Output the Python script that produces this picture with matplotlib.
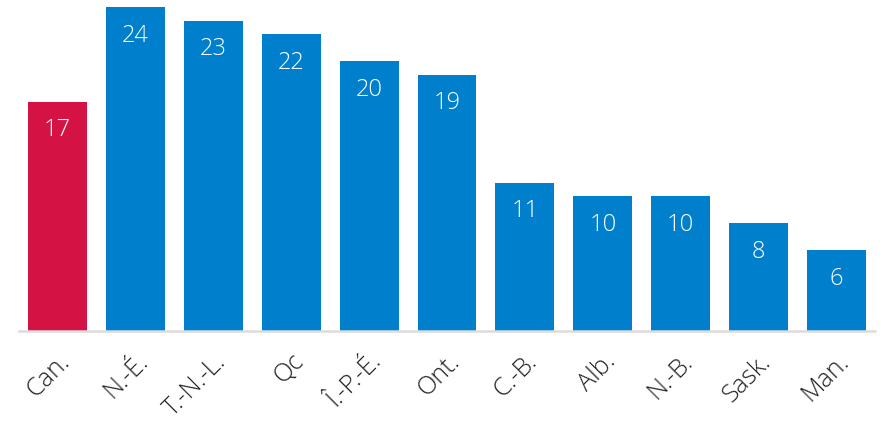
import matplotlib
matplotlib.use("Agg")
import matplotlib.pyplot as plt

categories = ["Can.", "N.-É.", "T.-N.-L.", "Qc", "Î.-P.-É.", "Ont.", "C.-B.", "Alb.", "N.-B.", "Sask.", "Man."]
values = [17, 24, 23, 22, 20, 19, 11, 10, 10, 8, 6]
highlight = "Can."

RED = "#D41344"
BLUE = "#0080CC"

plt.rcParams['font.family'] = ['Open Sans', 'DejaVu Sans']

fig = plt.figure(figsize=(8.87, 4.25), dpi=100)
ax = fig.add_axes([18.5/887, 94/425, 857/887, 324/425])

x = list(range(len(categories)))
colors = [RED if c == highlight else BLUE for c in categories]
bars = ax.bar(x, values, width=0.757, color=colors, zorder=2)

for xi, v in zip(x, values):
    ax.annotate(str(v), (xi, v), xytext=(0, -12), textcoords="offset points",
                ha="center", va="top", color="white", fontsize=17, fontweight="light")

ax.set_xlim(-0.5, len(categories) - 0.5)
ax.set_ylim(0, 24)
ax.set_yticks([])
ax.set_xticks(x)
ax.set_xticklabels(categories, rotation=45, ha="right", va="top",
                   rotation_mode="anchor", fontsize=18, fontweight="light", color="#222222")
ax.tick_params(axis="x", length=0, pad=13)
for s in ["top", "right", "left"]:
    ax.spines[s].set_visible(False)
ax.spines["bottom"].set_color("#DCDCDC")
ax.spines["bottom"].set_linewidth(1.8)
ax.spines["bottom"].set_zorder(3)

fig.savefig("out.png", dpi=100)
